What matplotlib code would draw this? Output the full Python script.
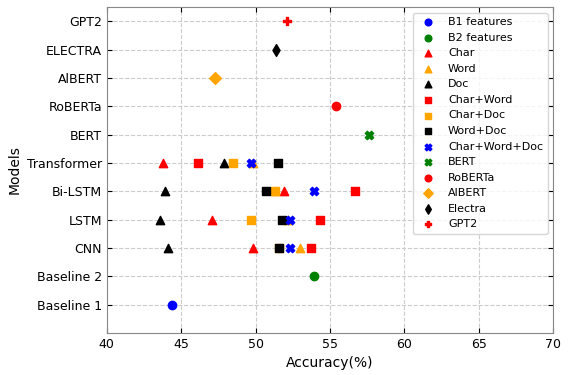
import matplotlib
matplotlib.use("Agg")
import matplotlib.pyplot as plt

models = ["Baseline 1", "Baseline 2", "CNN", "LSTM", "Bi-LSTM", "Transformer",
          "BERT", "RoBERTa", "AlBERT", "ELECTRA", "GPT2"]

# each series: (label, models, accuracies)
b1_models = ["Baseline 1"]
b1_acc = [44.4]
b2_models = ["Baseline 2"]
b2_acc = [53.9]
nn_models = ["CNN", "LSTM", "Bi-LSTM", "Transformer"]
char_acc = [49.8, 47.1, 51.9, 43.8]
word_acc = [53.0, 52.2, 51.3, 49.8]
doc_acc = [44.1, 43.6, 43.9, 47.9]
char_word_acc = [53.7, 54.3, 56.7, 46.1]
char_doc_acc = [51.6, 49.7, 51.3, 48.5]
word_doc_acc = [51.6, 51.8, 50.7, 51.5]
char_word_doc_acc = [52.3, 52.3, 53.9, 49.7]
bert_acc = [57.6]
roberta_acc = [55.4]
albert_acc = [47.3]
electra_acc = [51.4]
gpt2_acc = [52.1]

series = [
    ("B1 features", b1_models, b1_acc, "o", "blue"),
    ("B2 features", b2_models, b2_acc, "o", "green"),
    ("Char", nn_models, char_acc, "^", "red"),
    ("Word", nn_models, word_acc, "^", "orange"),
    ("Doc", nn_models, doc_acc, "^", "black"),
    ("Char+Word", nn_models, char_word_acc, "s", "red"),
    ("Char+Doc", nn_models, char_doc_acc, "s", "orange"),
    ("Word+Doc", nn_models, word_doc_acc, "s", "black"),
    ("Char+Word+Doc", nn_models, char_word_doc_acc, "X", "blue"),
    ("BERT", ["BERT"], bert_acc, "X", "green"),
    ("RoBERTa", ["RoBERTa"], roberta_acc, "o", "red"),
    ("AlBERT", ["AlBERT"], albert_acc, "D", "orange"),
    ("Electra", ["ELECTRA"], electra_acc, "d", "black"),
    ("GPT2", ["GPT2"], gpt2_acc, "P", "red"),
]

fig = plt.figure(figsize=(5.68, 3.75), dpi=100)
ax = fig.add_axes([0.188, 0.112, 0.786, 0.869])

for label, ms, accs, marker, color in series:
    xs = accs
    ys = [models.index(m) for m in ms]
    ax.scatter(xs, ys, marker=marker, color=color, s=36, label=label, zorder=3)

ax.set_yticks(range(len(models)))
ax.set_yticklabels(models)
ax.set_xlim(40, 70)
ax.set_ylim(-1, 10.5)
ax.set_xlabel("Accuracy(%)", fontsize=10)
ax.set_ylabel("Models", fontsize=10)
ax.grid(True, linestyle="--", color="#cccccc", linewidth=0.8)
ax.tick_params(direction="in", top=True, right=True, labelsize=9)
for s in ax.spines.values():
    s.set_color("#888888")
ax.legend(loc="upper right", fontsize=8, markerscale=0.8)

fig.savefig("out.png", dpi=100)
